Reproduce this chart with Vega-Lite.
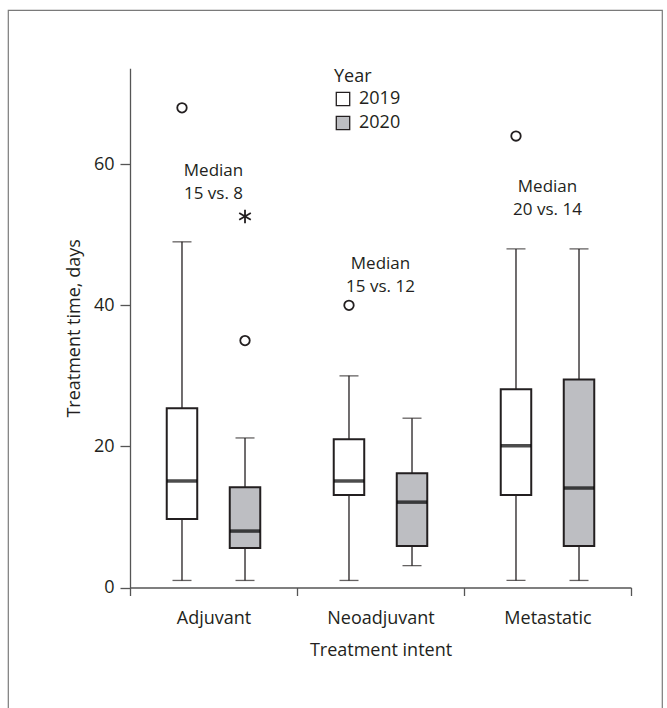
{
  "$schema": "https://vega.github.io/schema/vega-lite/v6.json",
  "width": 654,
  "height": 710,
  "autosize": {"type": "none"},
  "padding": {"left": 8, "top": 10, "right": 5, "bottom": 0},
  "background": "white",
  "config": {
    "view": {"stroke": "#7a7a7a", "strokeWidth": 1.2},
    "font": "Open Sans",
    "axis": {
      "grid": false,
      "domainColor": "#555555",
      "domainWidth": 1.3,
      "tickColor": "#555555",
      "tickWidth": 1.3,
      "labelFontSize": 18,
      "titleFontSize": 18,
      "titleFontWeight": "normal",
      "labelColor": "#231f20",
      "titleColor": "#231f20"
    }
  },
  "datasets": {
    "boxes": [
      {"intent": "Adjuvant", "year": "2019", "lower": 1, "q1": 9.7, "median": 15.1, "q3": 25.4, "upper": 49},
      {"intent": "Adjuvant", "year": "2020", "lower": 1, "q1": 5.6, "median": 8, "q3": 14.2, "upper": 21.2},
      {"intent": "Neoadjuvant", "year": "2019", "lower": 1, "q1": 13.1, "median": 15.1, "q3": 21, "upper": 30},
      {"intent": "Neoadjuvant", "year": "2020", "lower": 3.1, "q1": 5.9, "median": 12.1, "q3": 16.2, "upper": 24},
      {"intent": "Metastatic", "year": "2019", "lower": 1, "q1": 13.1, "median": 20.1, "q3": 28.1, "upper": 48},
      {"intent": "Metastatic", "year": "2020", "lower": 1, "q1": 5.9, "median": 14.1, "q3": 29.5, "upper": 48}
    ],
    "outliers": [
      {"intent": "Adjuvant", "year": "2019", "value": 68},
      {"intent": "Adjuvant", "year": "2020", "value": 35},
      {"intent": "Neoadjuvant", "year": "2019", "value": 40},
      {"intent": "Metastatic", "year": "2019", "value": 64}
    ],
    "extremes": [
      {"intent": "Adjuvant", "year": "2020", "value": 52.6}
    ],
    "notes": [
      {"intent": "Adjuvant", "ty": 58.3, "label": "Median\n15 vs. 8"},
      {"intent": "Neoadjuvant", "ty": 45.2, "label": "Median\n15 vs. 12"},
      {"intent": "Metastatic", "ty": 56.1, "label": "Median\n20 vs. 14"}
    ]
  },
  "encoding": {
    "x": {
      "field": "intent",
      "type": "nominal",
      "scale": {"domain": ["Adjuvant", "Neoadjuvant", "Metastatic"], "range": [122, 623], "paddingInner": 0, "paddingOuter": 0},
      "axis": {
        "title": "Treatment intent",
        "labelAngle": 0,
        "tickBand": "extent",
        "tickSize": 8,
        "labelPadding": 14,
        "titlePadding": 14,
        "offset": -132.5
      }
    }
  },
  "layer": [
    {
      "data": {"name": "boxes"},
      "mark": {"type": "rule", "color": "#231f20", "strokeWidth": 1.3},
      "encoding": {
        "xOffset": {"field": "year", "type": "nominal", "scale": {"domain": ["2019", "2020"], "paddingInner": 0.516, "paddingOuter": 0.583}},
        "y": {
          "field": "lower",
          "type": "quantitative",
          "title": "Treatment time, days",
          "scale": {"domain": [0, 73.6], "nice": false, "zero": false, "range": [577.5, 58.3]},
          "axis": {
            "title": "Treatment time, days",
            "values": [0, 20, 40, 60],
            "tickSize": 10,
            "labelPadding": 6,
            "titlePadding": 10,
            "offset": -122
          }
        },
        "y2": {"field": "upper"}
      }
    },
    {
      "data": {"name": "boxes"},
      "mark": {"type": "tick", "color": "#231f20", "size": 19, "thickness": 1.3},
      "encoding": {
        "xOffset": {"field": "year", "type": "nominal", "scale": {"domain": ["2019", "2020"], "paddingInner": 0.516, "paddingOuter": 0.583}},
        "y": {"field": "lower", "type": "quantitative", "title": "Treatment time, days"}
      }
    },
    {
      "data": {"name": "boxes"},
      "mark": {"type": "tick", "color": "#231f20", "size": 19, "thickness": 1.3},
      "encoding": {
        "xOffset": {"field": "year", "type": "nominal", "scale": {"domain": ["2019", "2020"], "paddingInner": 0.516, "paddingOuter": 0.583}},
        "y": {"field": "upper", "type": "quantitative", "title": "Treatment time, days"}
      }
    },
    {
      "data": {"name": "boxes"},
      "mark": {"type": "bar", "stroke": "#231f20", "strokeWidth": 2},
      "encoding": {
        "xOffset": {"field": "year", "type": "nominal", "scale": {"domain": ["2019", "2020"], "paddingInner": 0.516, "paddingOuter": 0.583}},
        "y": {"field": "q1", "type": "quantitative", "title": "Treatment time, days"},
        "y2": {"field": "q3"},
        "fill": {
          "field": "year",
          "type": "nominal",
          "scale": {"domain": ["2019", "2020"], "range": ["#ffffff", "#bdbec2"]},
          "legend": {
            "title": "Year",
            "orient": "none",
            "legendX": 326,
            "legendY": 58,
            "padding": 0,
            "titleFontSize": 18,
            "titleFontWeight": "normal",
            "titleColor": "#231f20",
            "titlePadding": 4,
            "labelFontSize": 18,
            "labelColor": "#231f20",
            "labelOffset": 7,
            "rowPadding": 4,
            "symbolType": "square",
            "symbolSize": 180,
            "symbolStrokeColor": "#231f20",
            "symbolStrokeWidth": 1.3
          }
        }
      }
    },
    {
      "data": {"name": "boxes"},
      "mark": {"type": "tick", "color": "#000000", "size": 30, "thickness": 3.5},
      "encoding": {
        "xOffset": {"field": "year", "type": "nominal", "scale": {"domain": ["2019", "2020"], "paddingInner": 0.516, "paddingOuter": 0.583}},
        "y": {"field": "median", "type": "quantitative", "title": "Treatment time, days"}
      }
    },
    {
      "data": {"name": "outliers"},
      "mark": {"type": "point", "shape": "circle", "filled": false, "color": "#231f20", "size": 90, "strokeWidth": 1.8, "opacity": 1},
      "encoding": {
        "xOffset": {"field": "year", "type": "nominal", "scale": {"domain": ["2019", "2020"], "paddingInner": 0.516, "paddingOuter": 0.583}},
        "y": {"field": "value", "type": "quantitative", "title": "Treatment time, days"}
      }
    },
    {
      "data": {"name": "extremes"},
      "mark": {"type": "point", "shape": "M0,-1L0,1M-0.866,-0.5L0.866,0.5M-0.866,0.5L0.866,-0.5", "filled": false, "color": "#231f20", "size": 180, "strokeWidth": 1.8, "opacity": 1},
      "encoding": {
        "xOffset": {"field": "year", "type": "nominal", "scale": {"domain": ["2019", "2020"], "paddingInner": 0.516, "paddingOuter": 0.583}},
        "y": {"field": "value", "type": "quantitative", "title": "Treatment time, days"}
      }
    },
    {
      "data": {"name": "notes"},
      "mark": {"type": "text", "lineBreak": "\n", "fontSize": 17, "baseline": "alphabetic", "align": "center", "lineHeight": 23.2, "color": "#231f20"},
      "encoding": {
        "y": {"field": "ty", "type": "quantitative", "title": "Treatment time, days"},
        "text": {"field": "label", "type": "nominal"}
      }
    }
  ]
}
